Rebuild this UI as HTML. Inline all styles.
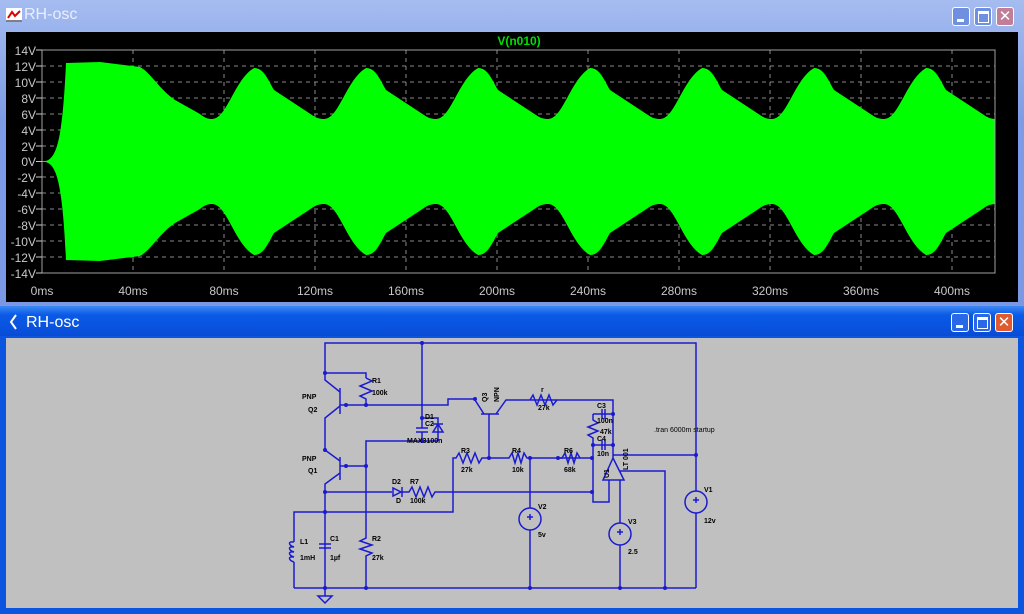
<!DOCTYPE html>
<html><head><meta charset="utf-8"><style>
html,body{margin:0;padding:0;}
body{width:1024px;height:614px;overflow:hidden;background:#7f9ee8;position:relative;font-family:"Liberation Sans",sans-serif;}
.w{position:absolute;}
.btn{position:absolute;width:18px;height:19px;border:1px solid #fff;border-radius:3px;box-sizing:border-box;}
</style></head><body>
<!-- top window -->
<div class="w" style="left:0;top:0;width:1024px;height:306px;background:linear-gradient(#a5bcf0,#7d9be6 40%,#7a98e4);"></div>
<div class="w" style="left:24px;top:6px;color:#e8eefc;font-size:16px;">RH-osc</div>
<svg class="w" style="left:6px;top:8px" width="16" height="14"><rect x="0" y="0" width="16" height="14" fill="#fff"/><polyline points="2,10 6,4 9,8 14,3" stroke="#d00" stroke-width="2" fill="none"/><line x1="0" y1="13" x2="16" y2="13" stroke="#000"/></svg>
<div class="btn" style="left:952px;top:7px;background:#6f8fe0;"><div style="position:absolute;left:4px;top:11px;width:7px;height:3px;background:#fff"></div></div>
<div class="btn" style="left:974px;top:7px;background:#6f8fe0;"><div style="position:absolute;left:3px;top:3px;width:9px;height:8px;border:1px solid #fff;border-top-width:3px"></div></div>
<div class="btn" style="left:996px;top:7px;background:#c07e98;color:#fff;font-size:15px;line-height:17px;text-align:center;">✕</div>
<div class="w" style="left:6px;top:32px;width:1012px;height:270px;background:#000;"></div>
<svg class="w" style="left:0;top:0" width="1024" height="306">
<defs><clipPath id="c"><rect x="42" y="50" width="953" height="223"/></clipPath></defs>
<g stroke="#8a8a8a" stroke-dasharray="4,4" stroke-width="1">
<line x1="42" y1="66" x2="995" y2="66"/><line x1="42" y1="82" x2="995" y2="82"/><line x1="42" y1="98" x2="995" y2="98"/><line x1="42" y1="114" x2="995" y2="114"/><line x1="42" y1="130" x2="995" y2="130"/><line x1="42" y1="146" x2="995" y2="146"/><line x1="42" y1="161.5" x2="995" y2="161.5"/><line x1="42" y1="177" x2="995" y2="177"/><line x1="42" y1="193" x2="995" y2="193"/><line x1="42" y1="209" x2="995" y2="209"/><line x1="42" y1="225" x2="995" y2="225"/><line x1="42" y1="241" x2="995" y2="241"/><line x1="42" y1="257" x2="995" y2="257"/>
<line x1="133" y1="50" x2="133" y2="273"/><line x1="224" y1="50" x2="224" y2="273"/><line x1="315" y1="50" x2="315" y2="273"/><line x1="406" y1="50" x2="406" y2="273"/><line x1="497" y1="50" x2="497" y2="273"/><line x1="588" y1="50" x2="588" y2="273"/><line x1="679" y1="50" x2="679" y2="273"/><line x1="770" y1="50" x2="770" y2="273"/><line x1="861" y1="50" x2="861" y2="273"/><line x1="952" y1="50" x2="952" y2="273"/>
</g>
<g clip-path="url(#c)" fill="#00ff00">
<path id="wv" d="M42,161.5 C55,161 62,150 66,63 L100,62 L140,67 C150,72 160,90 175,100 L200,114 C205,118 208,119 212,119
C227,119 234,80 254,68 C264,68 268,80 274,90 L312,115 C316,118 320,119 324,119
C339,119 346,80 366,68 C376,68 380,80 386,90 L424,115 C428,118 432,119 436,119
C451,119 458,80 478,68 C488,68 492,80 498,90 L536,115 C540,118 544,119 548,119
C563,119 570,80 590,68 C600,68 604,80 610,90 L648,115 C652,118 656,119 660,119
C675,119 682,80 702,68 C712,68 716,80 722,90 L760,115 C764,118 768,119 772,119
C787,119 794,80 814,68 C824,68 828,80 834,90 L872,115 C876,118 880,119 884,119
C899,119 906,80 926,68 C936,68 940,80 946,90 L984,115 C988,118 992,119 996,119 L996,166 L62,166 C60,163 52,162 42,161.5 Z"/>
<use href="#wv" transform="matrix(1 0 0 -1 0 323)"/>
</g>
<rect x="42" y="50" width="953" height="223" fill="none" stroke="#a0a0a0"/>
<g stroke="#c8c8c8"><line x1="36" y1="50" x2="42" y2="50"/><line x1="36" y1="66" x2="42" y2="66"/><line x1="36" y1="82" x2="42" y2="82"/><line x1="36" y1="98" x2="42" y2="98"/><line x1="36" y1="114" x2="42" y2="114"/><line x1="36" y1="130" x2="42" y2="130"/><line x1="36" y1="146" x2="42" y2="146"/><line x1="36" y1="161.5" x2="42" y2="161.5"/><line x1="36" y1="177" x2="42" y2="177"/><line x1="36" y1="193" x2="42" y2="193"/><line x1="36" y1="209" x2="42" y2="209"/><line x1="36" y1="225" x2="42" y2="225"/><line x1="36" y1="241" x2="42" y2="241"/><line x1="36" y1="257" x2="42" y2="257"/><line x1="36" y1="273" x2="42" y2="273"/></g>
<g fill="#c8c8c8" font-size="12" font-family="Liberation Sans" text-anchor="end">
<text x="36" y="55">14V</text><text x="36" y="71">12V</text><text x="36" y="87">10V</text><text x="36" y="103">8V</text><text x="36" y="119">6V</text><text x="36" y="135">4V</text><text x="36" y="151">2V</text><text x="36" y="166">0V</text><text x="36" y="182">-2V</text><text x="36" y="198">-4V</text><text x="36" y="214">-6V</text><text x="36" y="230">-8V</text><text x="36" y="246">-10V</text><text x="36" y="262">-12V</text><text x="36" y="278">-14V</text>
</g>
<g fill="#c8c8c8" font-size="12" font-family="Liberation Sans" text-anchor="middle">
<text x="42" y="295">0ms</text><text x="133" y="295">40ms</text><text x="224" y="295">80ms</text><text x="315" y="295">120ms</text><text x="406" y="295">160ms</text><text x="497" y="295">200ms</text><text x="588" y="295">240ms</text><text x="679" y="295">280ms</text><text x="770" y="295">320ms</text><text x="861" y="295">360ms</text><text x="952" y="295">400ms</text>
</g>
<text x="519" y="45" fill="#00e000" font-size="12" font-weight="bold" text-anchor="middle" font-family="Liberation Sans">V(n010)</text>
</svg>
<!-- bottom window -->
<div class="w" style="left:0;top:306px;width:1024px;height:308px;background:#0b55e0;"></div>
<div class="w" style="left:0;top:306px;width:1024px;height:30px;background:linear-gradient(#3d8af5,#0a5ae6 30%,#0850dc 85%,#0a4bd0);"></div>
<div class="w" style="left:26px;top:314px;color:#fff;font-size:16px;">RH-osc</div>
<svg class="w" style="left:8px;top:314px" width="14" height="16"><polyline points="8,1 3,8 8,15" stroke="#fff" stroke-width="2" fill="none"/></svg>
<div class="btn" style="left:951px;top:313px;background:#2a68ea;"><div style="position:absolute;left:4px;top:11px;width:7px;height:3px;background:#fff"></div></div>
<div class="btn" style="left:973px;top:313px;background:#2a68ea;"><div style="position:absolute;left:3px;top:3px;width:9px;height:8px;border:1px solid #fff;border-top-width:3px"></div></div>
<div class="btn" style="left:995px;top:313px;background:#e05a30;color:#fff;font-size:15px;line-height:17px;text-align:center;">✕</div>
<div class="w" style="left:6px;top:338px;width:1012px;height:270px;background:#c0c0c0;"></div>
<svg class="w" style="left:0;top:0" width="1024" height="614">
<g stroke="#1a1ad0" stroke-width="1.5" fill="none">
<polyline points="325,373 325,343 696,343 696,491"/><line x1="696" y1="513" x2="696" y2="588"/>
<polyline points="325,373 366,373 366,378"/><polyline points="366,378 372,381 360,386 372,391 360,396 366,399 366,405"/>
<polyline points="325,373 325,380 340,392"/><line x1="340" y1="388" x2="340" y2="414"/><polyline points="340,406 325,418 325,450 340,461"/>
<line x1="340" y1="457" x2="340" y2="480"/><polyline points="340,473 325,484 325,588"/>
<polyline points="340,405 448,405 448,399 474,399"/><line x1="340" y1="466" x2="366" y2="466"/>
<line x1="422" y1="343" x2="422" y2="428"/><line x1="416" y1="428" x2="428" y2="428"/><line x1="416" y1="432" x2="428" y2="432"/><line x1="422" y1="432" x2="422" y2="441"/>
<polyline points="422,418 438,418 438,441"/><polygon points="433,432 443,432 438,424"/><line x1="433" y1="424" x2="443" y2="424"/>
<polyline points="366,588 366,556 372,553 360,549 372,545 360,541 366,538 366,441 438,441"/>
<polyline points="325,492 392,492"/><polygon points="393,488 393,496 401,492"/><line x1="402" y1="487" x2="402" y2="497"/>
<polyline points="402,492 409,492 412,487 416,497 420,487 424,497 428,487 432,497 435,492 592,492"/>
<polyline points="294,588 294,562"/><path d="M294,562 c-6,-2 -6,-6 0,-5 c-6,-2 -6,-6 0,-5 c-6,-2 -6,-6 0,-5 c-6,-2 -6,-6 0,-5"/><polyline points="294,542 294,512 453,512 453,458 456,458 459,453 463,463 467,453 471,463 475,453 479,463 482,458 489,458"/>
<line x1="319" y1="544" x2="331" y2="544"/><line x1="319" y1="548" x2="331" y2="548"/>
<line x1="294" y1="588" x2="696" y2="588"/>
<polyline points="481,414 499,414"/><polyline points="484,414 475,400"/><polyline points="496,414 506,400 557,400"/><line x1="489" y1="414" x2="489" y2="458"/>
<polyline points="530,400 533,395 537,405 541,395 545,405 549,395 553,405 557,400 613,400 613,458"/>
<polyline points="489,458 509,458 512,453 515,463 518,453 521,463 524,453 527,458 592,458"/>
<polyline points="558,458 562,458 565,453 568,463 571,453 574,463 577,453 580,458"/>
<line x1="530" y1="458" x2="530" y2="508"/><circle cx="530" cy="519" r="11"/><line x1="530" y1="530" x2="530" y2="588"/>
<line x1="593" y1="414" x2="613" y2="414"/><line x1="602" y1="409" x2="602" y2="419"/><line x1="605" y1="409" x2="605" y2="419"/>
<polyline points="593,414 593,420 598,423 588,427 598,431 588,435 593,438 593,445"/>
<line x1="593" y1="445" x2="613" y2="445"/><line x1="602" y1="440" x2="602" y2="450"/><line x1="605" y1="440" x2="605" y2="450"/>
<polyline points="593,445 593,502 609,502 609,480"/>
<polygon points="613,458 603,480 624,480"/>
<polyline points="613,455 696,455"/><polyline points="620,471 665,471 665,588"/>
<line x1="620" y1="480" x2="620" y2="523"/><circle cx="620" cy="534" r="11"/><line x1="620" y1="545" x2="620" y2="588"/>
<circle cx="696" cy="502" r="11"/>
<line x1="530" y1="514" x2="530" y2="520"/><line x1="527" y1="517" x2="533" y2="517"/><line x1="620" y1="529" x2="620" y2="535"/><line x1="617" y1="532" x2="623" y2="532"/><line x1="696" y1="497" x2="696" y2="503"/><line x1="693" y1="500" x2="699" y2="500"/>
<line x1="325" y1="588" x2="325" y2="596"/><polygon points="318,596 332,596 325,603"/>
</g>
<g fill="#1a1ad0">
<circle cx="325" cy="373" r="2"/><circle cx="366" cy="405" r="2"/><circle cx="346" cy="405" r="2"/><circle cx="422" cy="343" r="2"/><circle cx="325" cy="450" r="2"/><circle cx="346" cy="466" r="2"/><circle cx="366" cy="466" r="2"/><circle cx="325" cy="492" r="2"/><circle cx="325" cy="512" r="2"/><circle cx="325" cy="588" r="2"/><circle cx="366" cy="588" r="2"/><circle cx="530" cy="588" r="2"/><circle cx="620" cy="588" r="2"/><circle cx="665" cy="588" r="2"/><circle cx="489" cy="458" r="2"/><circle cx="530" cy="458" r="2"/><circle cx="558" cy="458" r="2"/><circle cx="592" cy="458" r="2"/><circle cx="592" cy="492" r="2"/><circle cx="475" cy="399" r="2"/><circle cx="613" cy="414" r="2"/><circle cx="593" cy="445" r="2"/><circle cx="613" cy="445" r="2"/><circle cx="696" cy="455" r="2"/><circle cx="422" cy="418" r="2"/><circle cx="422" cy="441" r="2"/>
</g>
<g fill="#000" font-size="7" font-weight="bold" font-family="Liberation Sans">
<text x="302" y="399">PNP</text><text x="308" y="412">Q2</text><text x="302" y="461">PNP</text><text x="308" y="473">Q1</text>
<text x="372" y="383">R1</text><text x="372" y="395">100k</text>
<text x="425" y="419">D1</text><text x="425" y="426">C2</text><text x="407" y="443">MAX3100n</text>
<text x="392" y="484">D2</text><text x="396" y="503">D</text><text x="410" y="484">R7</text><text x="410" y="503">100k</text>
<text x="300" y="544">L1</text><text x="300" y="560">1mH</text><text x="330" y="541">C1</text><text x="330" y="560">1µf</text>
<text x="372" y="541">R2</text><text x="372" y="560">27k</text>
<text x="461" y="453">R3</text><text x="461" y="472">27k</text><text x="512" y="453">R4</text><text x="512" y="472">10k</text><text x="564" y="453">R6</text><text x="564" y="472">68k</text>
<text x="541" y="392">r</text><text x="538" y="410">27k</text>
<text x="597" y="408">C3</text><text x="597" y="423">100n</text><text x="600" y="434">47k</text><text x="597" y="441">C4</text><text x="597" y="456">10n</text>
<text x="538" y="509">V2</text><text x="538" y="537">5v</text><text x="628" y="524">V3</text><text x="628" y="554">2.5</text><text x="704" y="492">V1</text><text x="704" y="523">12v</text>
<text x="654" y="432" font-weight="normal">.tran 6000m startup</text>
<text transform="translate(487,402) rotate(-90)">Q3</text><text transform="translate(499,402) rotate(-90)">NPN</text>
<text transform="translate(609,478) rotate(-90)">U1</text><text transform="translate(628,470) rotate(-90)">LT 001</text>
</g>
</svg>
</body></html>
